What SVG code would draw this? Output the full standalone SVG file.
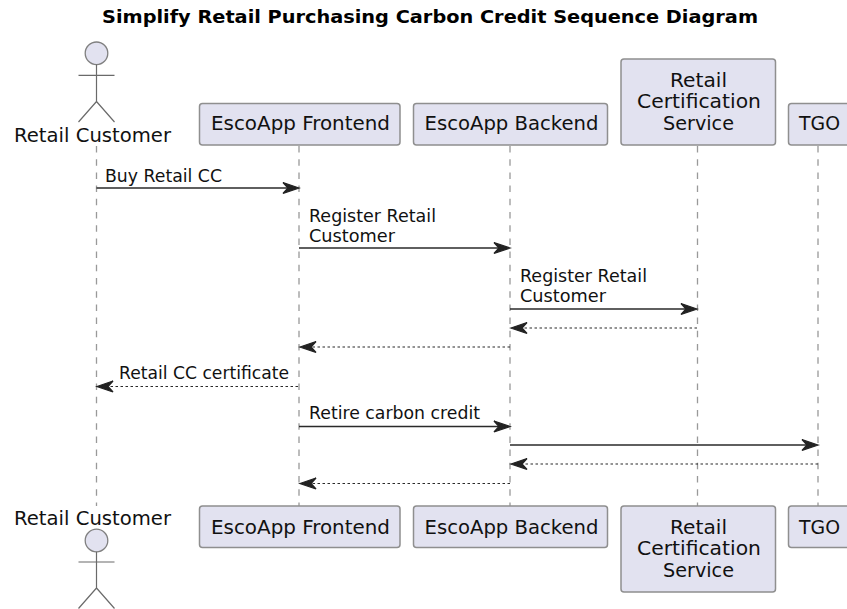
<svg xmlns="http://www.w3.org/2000/svg" width="847" height="609" viewBox="0 0 847 609">
<style>
text{font-family:"DejaVu Sans",sans-serif;fill:#111}
.title{font-size:18.500px;font-weight:bold;fill:#000}
.p{font-size:19px}
.m{font-size:16.800px}
.box{fill:#E2E2F0;stroke:#8f8f8f;stroke-width:1.500}
.life{stroke:#999;stroke-width:1.300;stroke-dasharray:6.500 6.700;fill:none}
.act{fill:none;stroke:#6a6a6a;stroke-width:1.200}
.head{fill:#E2E2F0;stroke:#808080;stroke-width:1.300}
.s{stroke:#2a2a2a;stroke-width:1.500;fill:none}
.d{stroke:#2a2a2a;stroke-width:1.200;stroke-dasharray:2.500 2.500;fill:none}
.ah{fill:#222;stroke:#222;stroke-width:1.300}
</style>
<defs>
<path id="ar" class="ah" d="M0 0L-16 -5.500L-11 0L-16 5.500Z"/>
<path id="al" class="ah" d="M0 0L16 -5.500L11 0L16 5.500Z"/>
</defs>
<text class="title" x="102" y="23" textLength="656" lengthAdjust="spacingAndGlyphs">Simplify Retail Purchasing Carbon Credit Sequence Diagram</text>
<g id="connectors">
<path class="life" d="M96.500 146V506"/>
<path class="life" d="M299 146V506"/>
<path class="life" d="M510 146V506"/>
<path class="life" d="M697.500 146V506"/>
<path class="life" d="M818 146V506"/>
<path class="s" d="M96.500 188H290"/><use href="#ar" x="299" y="188"/>
<path class="s" d="M299 248H501"/><use href="#ar" x="510" y="248"/>
<path class="s" d="M510 309H688"/><use href="#ar" x="697" y="309"/>
<path class="d" d="M697 328H520"/><use href="#al" x="511" y="328"/>
<path class="d" d="M510 347H310"/><use href="#al" x="300" y="347"/>
<path class="d" d="M298 386.500H107"/><use href="#al" x="97" y="386.500"/>
<path class="s" d="M299 426.500H501"/><use href="#ar" x="510" y="426.500"/>
<path class="s" d="M510 445H809"/><use href="#ar" x="818" y="445"/>
<path class="d" d="M818 464H521"/><use href="#al" x="511" y="464"/>
<path class="d" d="M510 483.500H310"/><use href="#al" x="300" y="483.500"/>
<text class="m" x="105" y="182" textLength="117" lengthAdjust="spacingAndGlyphs">Buy Retail CC</text>
<text class="m" x="309" y="222" textLength="127" lengthAdjust="spacingAndGlyphs">Register Retail</text>
<text class="m" x="309" y="242" textLength="86" lengthAdjust="spacingAndGlyphs">Customer</text>
<text class="m" x="520" y="282" textLength="127" lengthAdjust="spacingAndGlyphs">Register Retail</text>
<text class="m" x="520" y="302" textLength="86" lengthAdjust="spacingAndGlyphs">Customer</text>
<text class="m" x="119" y="379" textLength="170" lengthAdjust="spacingAndGlyphs">Retail CC certificate</text>
<text class="m" x="309" y="419" textLength="171" lengthAdjust="spacingAndGlyphs">Retire carbon credit</text>
</g>
<g id="actor-top">
<circle class="head" cx="96.500" cy="53.300" r="11.300"/>
<path class="act" d="M96.500 64.600V101.500M78.500 75.300H114.500M78.500 122L96.500 101.500L114.500 122"/>
<text class="p" x="14" y="141.500" textLength="157" lengthAdjust="spacingAndGlyphs">Retail Customer</text>
</g>
<g id="frontend-top"><rect class="box" x="199.500" y="103.500" width="200.500" height="41.500" rx="3"/><text class="p" x="211" y="130" textLength="179" lengthAdjust="spacingAndGlyphs">EscoApp Frontend</text></g>
<g id="backend-top"><rect class="box" x="413.500" y="103.500" width="194" height="41.500" rx="3"/><text class="p" x="424.500" y="130" textLength="174" lengthAdjust="spacingAndGlyphs">EscoApp Backend</text></g>
<g id="cert-top"><rect class="box" x="621" y="59" width="154.500" height="86" rx="3"/><text class="p" x="670" y="86.500" textLength="57" lengthAdjust="spacingAndGlyphs">Retail</text><text class="p" x="637" y="108" textLength="124" lengthAdjust="spacingAndGlyphs">Certification</text><text class="p" x="663" y="130" textLength="71" lengthAdjust="spacingAndGlyphs">Service</text></g>
<g id="tgo-top"><rect class="box" x="788.500" y="103.500" width="62" height="41.500" rx="3"/><text class="p" x="799" y="130" textLength="41" lengthAdjust="spacingAndGlyphs">TGO</text></g>
<g id="actor-bottom">
<text class="p" x="14" y="524.500" textLength="157" lengthAdjust="spacingAndGlyphs">Retail Customer</text>
<circle class="head" cx="96.500" cy="540.500" r="11.300"/>
<path class="act" d="M96.500 551.800V588M78.500 562H114.500M78.500 608.500L96.500 588L114.500 608.500"/>
</g>
<g id="frontend-bottom"><rect class="box" x="199.500" y="506" width="200.500" height="41.500" rx="3"/><text class="p" x="211" y="534" textLength="179" lengthAdjust="spacingAndGlyphs">EscoApp Frontend</text></g>
<g id="backend-bottom"><rect class="box" x="413.500" y="506" width="194" height="41.500" rx="3"/><text class="p" x="424.500" y="534" textLength="174" lengthAdjust="spacingAndGlyphs">EscoApp Backend</text></g>
<g id="cert-bottom"><rect class="box" x="621" y="506" width="154.500" height="86" rx="3"/><text class="p" x="670" y="533.500" textLength="57" lengthAdjust="spacingAndGlyphs">Retail</text><text class="p" x="637" y="555" textLength="124" lengthAdjust="spacingAndGlyphs">Certification</text><text class="p" x="663" y="577" textLength="71" lengthAdjust="spacingAndGlyphs">Service</text></g>
<g id="tgo-bottom"><rect class="box" x="788.500" y="506" width="62" height="41.500" rx="3"/><text class="p" x="799" y="534" textLength="41" lengthAdjust="spacingAndGlyphs">TGO</text></g>
</svg>
